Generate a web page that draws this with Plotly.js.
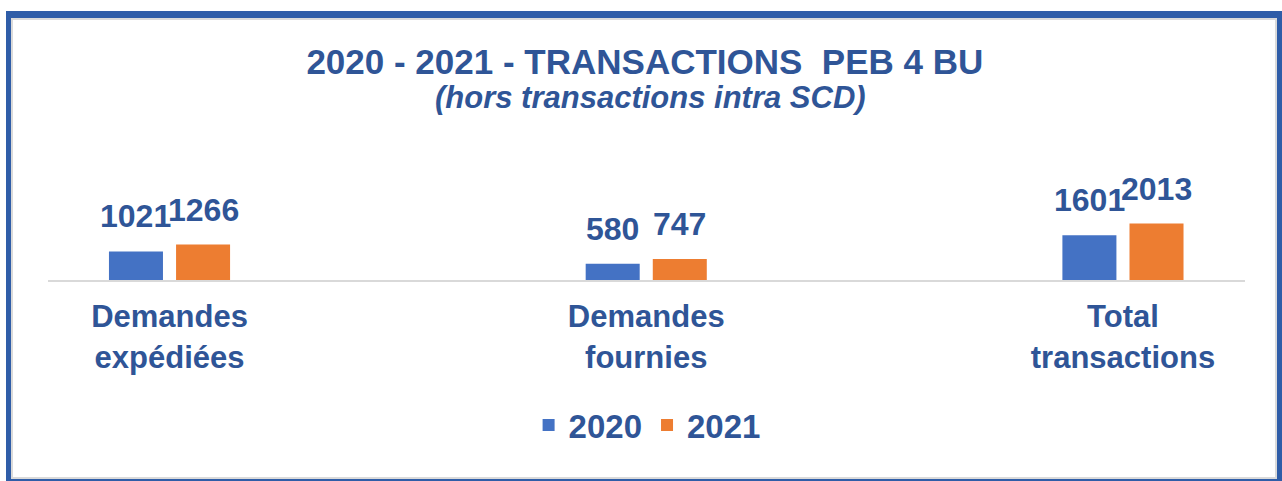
<!DOCTYPE html>
<html><head><meta charset="utf-8">
<script src="https://cdn.plot.ly/plotly-3.0.1.min.js"></script>
<style>
body{margin:0;padding:0;background:#fff;}
#wrap{position:relative;width:1282px;height:481px;overflow:hidden;}
#chart{position:absolute;left:0;top:0;width:1282px;height:481px;}
#frame{position:absolute;left:6px;top:11px;width:1266px;height:461px;border:5px solid #2F5DA8;border-top-width:7px;pointer-events:none;box-shadow:inset 0 0 0 2px #DADADA;}
</style></head>
<body><div id="wrap"><div id="chart"></div><div id="frame"></div></div>
<script>
const categories = ["Demandes<br>expédiées", "Demandes<br>fournies", "Total<br>transactions"];
const values2020 = [1021, 580, 1601];
const values2021 = [1266, 747, 2013];
const seriesNames = ["2020", "2021"];
const titleText = "2020 - 2021 - TRANSACTIONS&nbsp; PEB 4 BU";
const subtitleText = "(hors transactions intra SCD)";

const textColor = "#2F5597";
const font = "Liberation Sans, Arial, sans-serif";

const traces = [
  {type:"bar", name:seriesNames[0], x:categories, y:values2020, marker:{color:"#4472C4"}},
  {type:"bar", name:seriesNames[1], x:categories, y:values2021, marker:{color:"#ED7D31"}}
];

const slot = 0.1408;
const annotations = [];
[values2020, values2021].forEach((vals, s) => {
  vals.forEach((v, i) => {
    annotations.push({
      x: i + (s === 0 ? -slot/2 : slot/2), y: v, xref:"x", yref:"y",
      text: String(v), showarrow:false, yanchor:"bottom", yshift:15,
      font:{family:font, size:32, color:textColor, weight:"bold"}
    });
  });
});
annotations.push({
  x:0.503, y:1.83, xref:"paper", yref:"paper", xanchor:"center", yanchor:"middle",
  text:"<b><i>" + subtitleText + "</i></b>", showarrow:false,
  font:{family:font, size:31, color:textColor}
});

const layout = {
  width:1282, height:481,
  margin:{l:48, r:37, t:180, b:201},
  paper_bgcolor:"#fff", plot_bgcolor:"rgba(0,0,0,0)",
  barmode:"group", bargap:0.7185, bargroupgap:0.195,
  title:{
    text:"<b>" + titleText + "</b>",
    x:0.503, xanchor:"center", y:0.871, yanchor:"middle",
    font:{family:font, size:35, color:textColor}
  },
  xaxis:{
    type:"category", range:[-0.2549, 2.256], showgrid:false, zeroline:false,
    showline:true, linecolor:"#D9D9D9", linewidth:2, ticks:"",
    tickfont:{family:font, size:31, color:textColor, weight:"bold"},
    ticklabelstandoff:8
  },
  yaxis:{range:[0,3570], visible:false, showgrid:false, zeroline:false},
  showlegend:true,
  legend:{orientation:"h", x:0.5005, xanchor:"center", y:-1.45, yanchor:"middle",
    font:{family:font, size:33, color:textColor, weight:"bold"}, itemwidth:30},
  annotations: annotations
};

Plotly.newPlot("chart", traces, layout, {displayModeBar:false, staticPlot:true});
</script></body></html>
